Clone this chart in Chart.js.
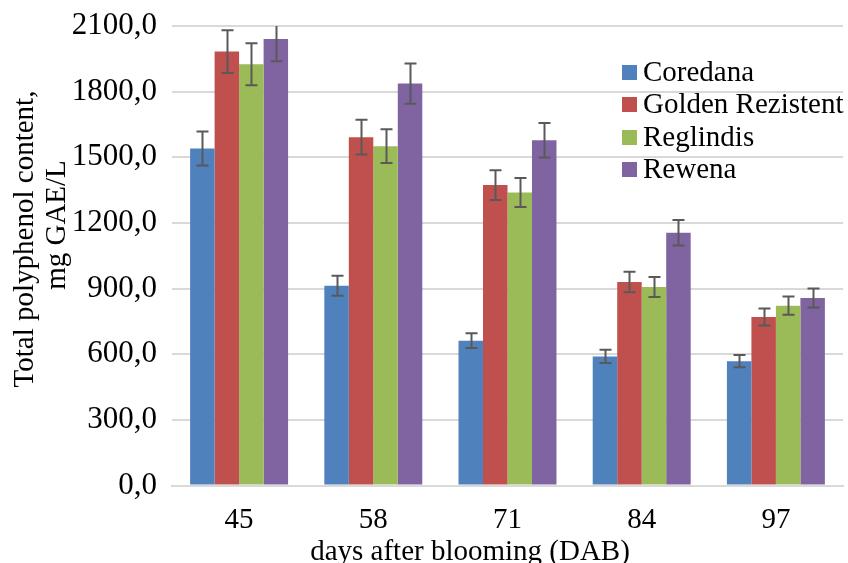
<!DOCTYPE html>
<html>
<head>
<meta charset="utf-8">
<script src="https://cdn.jsdelivr.net/npm/chart.js@4/dist/chart.umd.min.js"></script>
<style>
  html, body { margin: 0; padding: 0; background: #ffffff; }
  #wrap { width: 848px; height: 563px; position: relative; }
</style>
</head>
<body>
<div id="wrap"><canvas id="c" width="848" height="563"></canvas></div>
<script>
const categories = ['45', '58', '71', '84', '97'];
const seriesNames = ['Coredana', 'Golden Rezistent', 'Reglindis', 'Rewena'];
const coredana  = [1540, 913, 662, 590, 568];
const golden    = [1983, 1592, 1373, 930, 770];
const reglindis = [1925, 1551, 1339, 907, 822];
const rewena    = [2041, 1837, 1578, 1155, 857];
const coredanaErr  = [78, 46, 34, 30, 28];
const goldenErr    = [98, 79, 68, 47, 39];
const reglindisErr = [96, 77, 66, 46, 42];
const rewenaErr    = [102, 92, 79, 58, 43];
const yTicks = [0, 300, 600, 900, 1200, 1500, 1800, 2100];
const yTitleLines = ['Total polyphenol content,', 'mg GAE/L'];
const xTitle = 'days after blooming (DAB)';

const colors = ['#4F81BD', '#C0504D', '#9BBB59', '#8064A2'];
const values = [coredana, golden, reglindis, rewena];
const errors = [coredanaErr, goldenErr, reglindisErr, rewenaErr];
const FONT = '"Liberation Serif", "Times New Roman", serif';

const datasets = seriesNames.map((name, i) => ({
  label: name,
  data: values[i],
  errors: errors[i],
  backgroundColor: colors[i],
  borderWidth: 0,
  categoryPercentage: 0.73,
  barPercentage: 1.0
}));

const errorBarPlugin = {
  id: 'errorBars',
  afterDatasetsDraw(chart) {
    const ctx = chart.ctx;
    const ys = chart.scales.y;
    const area = chart.chartArea;
    ctx.save();
    ctx.beginPath();
    ctx.rect(area.left, area.top, area.right - area.left, area.bottom - area.top);
    ctx.clip();
    ctx.strokeStyle = '#595959';
    ctx.lineWidth = 2;
    chart.data.datasets.forEach((ds, di) => {
      const meta = chart.getDatasetMeta(di);
      meta.data.forEach((el, i) => {
        const v = ds.data[i], e = ds.errors[i];
        const x = Math.round(el.x) + 0.5;
        const yt = ys.getPixelForValue(v + e);
        const yb = ys.getPixelForValue(v - e);
        ctx.beginPath();
        ctx.moveTo(x, yt); ctx.lineTo(x, yb);
        ctx.moveTo(x - 6, yt); ctx.lineTo(x + 6, yt);
        ctx.moveTo(x - 6, yb); ctx.lineTo(x + 6, yb);
        ctx.stroke();
      });
    });
    ctx.restore();
  }
};

const textPlugin = {
  id: 'customText',
  afterDraw(chart) {
    const ctx = chart.ctx;
    ctx.save();
    ctx.fillStyle = '#000000';
    ctx.font = '29px ' + FONT;
    // legend
    ctx.textAlign = 'left';
    ctx.textBaseline = 'alphabetic';
    const rowBase = [81, 113, 146, 178];
    chart.data.datasets.forEach((ds, i) => {
      ctx.fillStyle = ds.backgroundColor;
      ctx.fillRect(622, rowBase[i] - 16, 15, 15);
      ctx.fillStyle = '#000000';
      ctx.fillText(ds.label, 643, rowBase[i]);
    });
    // y axis title (two lines, rotated)
    ctx.save();
    ctx.textAlign = 'center';
    ctx.translate(33, 239);
    ctx.rotate(-Math.PI / 2);
    ctx.fillText(yTitleLines[0], 0, 0);
    ctx.restore();
    ctx.save();
    ctx.textAlign = 'center';
    ctx.translate(65, 225);
    ctx.rotate(-Math.PI / 2);
    ctx.fillText(yTitleLines[1], 0, 0);
    ctx.restore();
    // x axis title
    ctx.textAlign = 'center';
    ctx.fillText(xTitle, 470, 560);
    ctx.restore();
  }
};

new Chart(document.getElementById('c'), {
  type: 'bar',
  data: { labels: categories, datasets: datasets },
  options: {
    responsive: false,
    animation: false,
    devicePixelRatio: 1,
    layout: { padding: { top: 26, right: 5, left: 0, bottom: 0 } },
    plugins: {
      legend: { display: false },
      tooltip: { enabled: false },
      title: { display: false }
    },
    scales: {
      x: {
        grid: { display: false, drawTicks: false },
        border: { display: true, color: '#d9d9d9', width: 2 },
        ticks: { color: '#000', font: { family: FONT, size: 29 }, padding: 17 },
        afterFit(scale) { scale.height = 77.5; scale.paddingLeft = 0; scale.paddingRight = 0; }
      },
      y: {
        min: 0, max: 2100,
        afterBuildTicks(scale) { scale.ticks = yTicks.map(v => ({ value: v })); },
        grid: { color: '#d9d9d9', lineWidth: 2, drawTicks: false },
        border: { display: false },
        ticks: {
          color: '#000',
          font: { family: FONT, size: 31 },
          padding: 15,
          callback: (v) => Number(v).toFixed(1).replace('.', ',')
        },
        afterFit(scale) { scale.width = 172; scale.paddingTop = 0; scale.paddingBottom = 0; }
      }
    }
  },
  plugins: [errorBarPlugin, textPlugin]
});
</script>
</body>
</html>
